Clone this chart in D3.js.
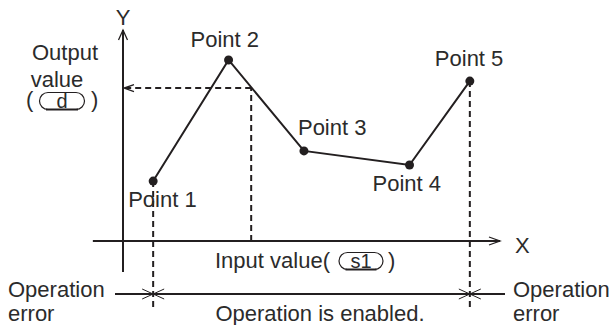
<!DOCTYPE html>
<html>
<head>
<meta charset="utf-8">
<title>Point interpolation</title>
<script src="https://cdn.jsdelivr.net/npm/d3@7"></script>
<style>
  body { margin: 0; background: #fff; }
  text { font-family: "Liberation Sans", Arial, sans-serif; fill: #2b2b2b; }
</style>
</head>
<body>
<div id="chart"></div>
<script>
// data, in arbitrary units (0..100 on both axes)
var pointNames = ["Point 1", "Point 2", "Point 3", "Point 4", "Point 5"];
var pointX = [8, 28, 48, 76, 92];
var pointY = [28.4, 85.8, 42.7, 36.0, 75.8];
var inputValue = 34;    // s1
var outputValue = 72.5; // d

var width = 614, height = 325;
var ink = "#231f20";

var x = d3.scaleLinear().domain([0, 100]).range([123, 500]);
var y = d3.scaleLinear().domain([0, 100]).range([241, 30]);

var svg = d3.select("#chart").append("svg")
    .attr("width", width)
    .attr("height", height);

// axes
svg.append("line").attr("x1", x(-8)).attr("x2", x(100))
    .attr("y1", y(0)).attr("y2", y(0))
    .attr("stroke", ink).attr("stroke-width", 2);
svg.append("line").attr("x1", x(0)).attr("x2", x(0))
    .attr("y1", y(-14.7)).attr("y2", y(100))
    .attr("stroke", ink).attr("stroke-width", 2);

// open arrow heads
function chevron(tipX, tipY, dx, dy, len, half) {
    // dx,dy = direction the arrow points
    var bx = tipX - dx * len, by = tipY - dy * len;
    var px = -dy * half, py = dx * half;
    return "M" + (bx + px) + "," + (by + py) + "L" + tipX + "," + tipY + "L" + (bx - px) + "," + (by - py);
}
svg.append("path").attr("d", chevron(x(0), y(100), 0, -1, 10, 4.5))
    .attr("fill", "none").attr("stroke", ink).attr("stroke-width", 1.3);
svg.append("path").attr("d", chevron(x(100), y(0), 1, 0, 11, 4))
    .attr("fill", "none").attr("stroke", ink).attr("stroke-width", 1.3);

svg.append("text").attr("x", x(0)).attr("y", 25).attr("text-anchor", "middle")
    .style("font-size", "22px").text("Y");
svg.append("text").attr("x", 515).attr("y", 253)
    .style("font-size", "22px").text("X");

// dashed guide for input -> output
var dash = "6,4";
svg.append("line").attr("x1", x(inputValue)).attr("x2", x(inputValue))
    .attr("y1", y(0)).attr("y2", y(outputValue))
    .attr("stroke", ink).attr("stroke-width", 2).attr("stroke-dasharray", dash);
svg.append("line").attr("x1", x(inputValue)).attr("x2", x(0) + 2)
    .attr("y1", y(outputValue)).attr("y2", y(outputValue))
    .attr("stroke", ink).attr("stroke-width", 2).attr("stroke-dasharray", dash);
svg.append("path").attr("d", chevron(x(0) + 1, y(outputValue), -1, 0, 10, 3.5))
    .attr("fill", "none").attr("stroke", ink).attr("stroke-width", 1.3);

// dashed verticals at first and last point
var ends = [0, pointX.length - 1];
svg.selectAll(".edge").data(ends).enter().append("line")
    .attr("x1", function(i) { return x(pointX[i]); })
    .attr("x2", function(i) { return x(pointX[i]); })
    .attr("y1", function(i) { return y(pointY[i]); })
    .attr("y2", 308)
    .attr("stroke", ink).attr("stroke-width", 2).attr("stroke-dasharray", dash);

// polyline through points
var pts = pointX.map(function(v, i) { return [v, pointY[i]]; });
var line = d3.line().x(function(d) { return x(d[0]); }).y(function(d) { return y(d[1]); });
svg.append("path").attr("d", line(pts))
    .attr("fill", "none").attr("stroke", ink).attr("stroke-width", 2);
svg.selectAll(".pt").data(pts).enter().append("circle")
    .attr("cx", function(d) { return x(d[0]); })
    .attr("cy", function(d) { return y(d[1]); })
    .attr("r", 4.5).attr("fill", ink);

// label offsets from their point (layout only)
var labelDx = [-25, -38, -6, -37, -35];
var labelDy = [26, -13, -16, 26, -15];
svg.selectAll(".lbl").data(pts).enter().append("text")
    .attr("x", function(d, i) { return x(d[0]) + labelDx[i]; })
    .attr("y", function(d, i) { return y(d[1]) + labelDy[i]; })
    .style("font-size", "22px")
    .text(function(d, i) { return pointNames[i]; });

// capsule operand box
function operand(cx, cy, w, h, label) {
    var g = svg.append("g");
    g.append("rect").attr("x", cx - w / 2).attr("y", cy - h / 2)
        .attr("width", w).attr("height", h).attr("rx", h / 2).attr("ry", h / 2)
        .attr("fill", "none").attr("stroke", ink).attr("stroke-width", 1.2);
    g.append("line").attr("x1", cx - w / 2 + h / 2 - 2).attr("x2", cx + w / 2 - h / 2 + 2)
        .attr("y1", cy + h / 2).attr("y2", cy + h / 2)
        .attr("stroke", ink).attr("stroke-width", 2);
    g.append("text").attr("x", cx).attr("y", cy + 7).attr("text-anchor", "middle")
        .style("font-size", "20px").text(label);
}

// output value label
svg.append("text").attr("x", 65).attr("y", 60).attr("text-anchor", "middle")
    .style("font-size", "22px").text("Output");
svg.append("text").attr("x", 57).attr("y", 87).attr("text-anchor", "middle")
    .style("font-size", "22px").text("value");
svg.append("text").attr("x", 26).attr("y", 107).style("font-size", "22px").text("(");
svg.append("text").attr("x", 91).attr("y", 107).style("font-size", "22px").text(")");
operand(62, 101, 45, 17, "d");

// input value label
svg.append("text").attr("x", 215).attr("y", 268).style("font-size", "22px").text("Input value(");
svg.append("text").attr("x", 388).attr("y", 268).style("font-size", "22px").text(")");
operand(361, 261, 44, 17, "s1");

// operation range
var rangeY = 294;
svg.append("line").attr("x1", 115).attr("x2", 505)
    .attr("y1", rangeY).attr("y2", rangeY)
    .attr("stroke", ink).attr("stroke-width", 2);
svg.selectAll(".xmark").data(ends).enter().append("path")
    .attr("d", function(i) {
        var cx = x(pointX[i]);
        return "M" + (cx - 11) + "," + (rangeY - 5) + "L" + (cx + 11) + "," + (rangeY + 5) +
               "M" + (cx - 11) + "," + (rangeY + 5) + "L" + (cx + 11) + "," + (rangeY - 5);
    })
    .attr("fill", "none").attr("stroke", ink).attr("stroke-width", 1);

svg.append("text").attr("x", 8).attr("y", 297).style("font-size", "22px").text("Operation");
svg.append("text").attr("x", 8).attr("y", 321).style("font-size", "22px").text("error");
svg.append("text").attr("x", 513).attr("y", 297).style("font-size", "22px").text("Operation");
svg.append("text").attr("x", 513).attr("y", 321).style("font-size", "22px").text("error");
svg.append("text").attr("x", 320).attr("y", 321).attr("text-anchor", "middle")
    .style("font-size", "22px").text("Operation is enabled.");
</script>
</body>
</html>
